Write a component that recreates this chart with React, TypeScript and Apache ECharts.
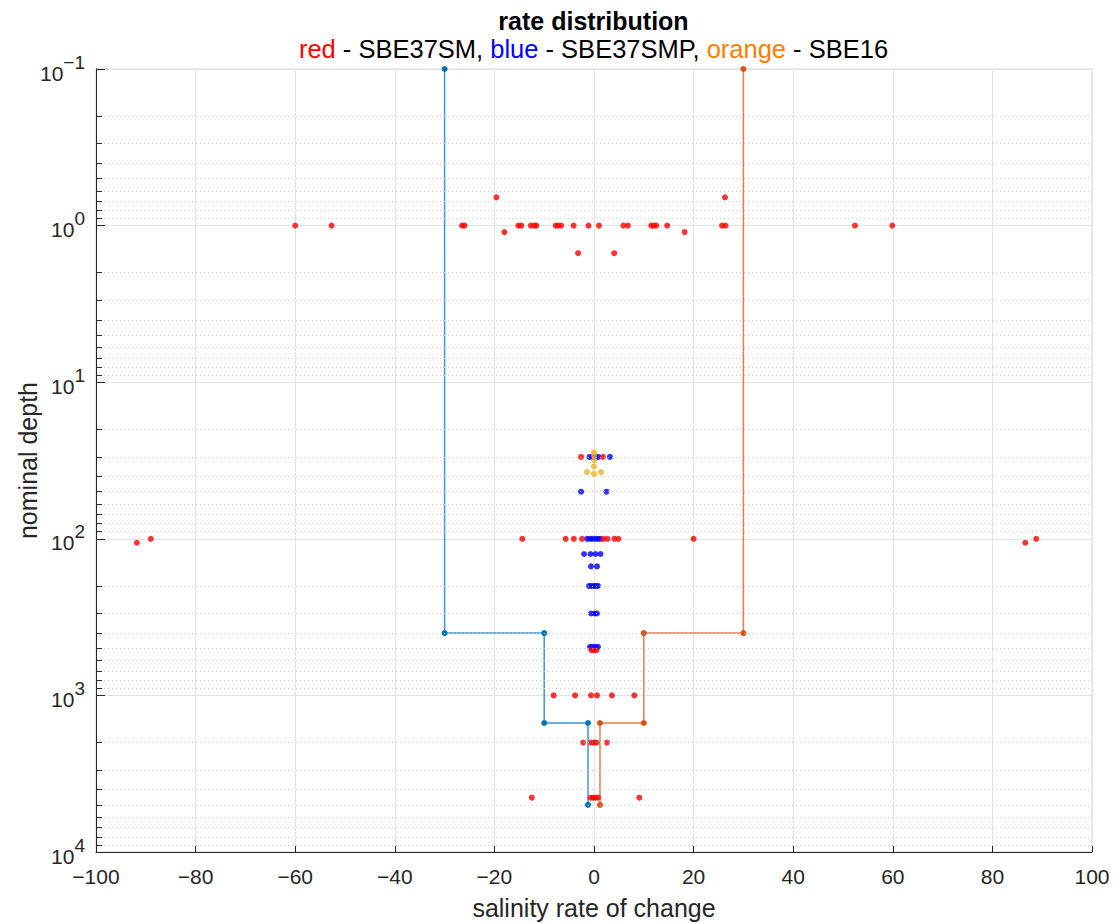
import React, { useEffect, useRef } from "react";
import * as echarts from "echarts";

// ---- data ----
const stairDepth = [0.1, 400, 400, 1500, 1500, 5000];
const blueStairRate = [-30, -30, -10, -10, -1.2, -1.2];
const orangeStairRate = [30, 30, 10, 10, 1.2, 1.2];

// SBE37SM (red) points: [rate, depth]
const redPoints: [number, number][] = [
  [-60, 1], [-52.7, 1], [-26.5, 1], [-26, 1], [-15.2, 1], [-14.6, 1],
  [-12.7, 1], [-12, 1], [-11.6, 1], [-7.7, 1], [-7.2, 1], [-6.6, 1],
  [-4.1, 1], [-1.1, 1], [1.0, 1], [5.9, 1], [6.8, 1], [11.5, 1], [12, 1],
  [12.5, 1], [14.7, 1], [25.7, 1], [26.4, 1], [52.4, 1], [59.9, 1],
  [-19.6, 0.66], [26.3, 0.66], [-18.0, 1.1], [18.2, 1.1], [-3.2, 1.5], [4.05, 1.5],
  [-2.6, 30], [1.8, 30],
  [-91.8, 106], [-89, 100], [-14.4, 100], [-5.7, 100], [-4.05, 100], [-2.4, 100],
  [1.9, 100], [2.7, 100], [4.1, 100], [4.9, 100], [20, 100], [86.6, 106], [88.8, 100],
  [-0.5, 515], [0, 515], [0.5, 515],
  [-8.1, 1000], [-3.8, 1000], [-0.6, 1000], [0.6, 1000], [3.6, 1000], [8.1, 1000],
  [-2.2, 2000], [-0.6, 2000], [0, 2000], [0.5, 2000], [2.6, 2000],
  [-12.5, 4500], [-0.7, 4500], [-0.2, 4500], [0.3, 4500], [0.8, 4500], [9.1, 4500],
];

// SBE37SMP (blue) points
const bluePoints: [number, number][] = [
  [-0.9, 30], [-0.3, 30], [0.3, 30], [0.9, 30], [3.2, 30],
  [-2.6, 50], [2.5, 50],
  [-1.4, 100], [-0.8, 100], [-0.3, 100], [0.3, 100], [0.8, 100], [1.3, 100],
  [-2.0, 125], [-0.7, 125], [0.3, 125], [1.3, 125],
  [-0.6, 150], [0.6, 150],
  [-1.0, 200], [-0.5, 200], [0, 200], [0.4, 200], [0.8, 200],
  [-0.6, 300], [0.1, 300], [0.6, 300],
  [-0.8, 490], [-0.3, 490], [0.3, 490], [0.8, 490],
];

// SBE16 (orange) points
const orangePoints: [number, number][] = [
  [0, 28], [0, 29.5], [0, 31.5], [0, 34.5], [-1.4, 37.5], [0, 38.5], [1.4, 37.5],
];

const yExponentTicks = [-1, 0, 1, 2, 3, 4];

const FONT = "'Liberation Sans', Helvetica, Arial, sans-serif";
const AXIS_COLOR = "#262626";

export default function App() {
  const ref = useRef<HTMLDivElement>(null);

  useEffect(() => {
    if (!ref.current) return;
    const chart = echarts.init(ref.current, undefined, { renderer: "svg" });

    const minorDepths: number[] = [];
    for (let e = yExponentTicks[0]; e < yExponentTicks[yExponentTicks.length - 1]; e++) {
      for (let m = 2; m <= 9; m++) minorDepths.push(m * Math.pow(10, e));
    }

    const minorGrid = minorDepths.map((d) => ({ yAxis: d }));
    const minorTicks = minorDepths.map((d) => [
      { coord: [-100, d] },
      { coord: [-98.8, d] },
    ]);

    const zip = (xs: number[], ys: number[]) => xs.map((x, i) => [x, ys[i]]);

    chart.setOption({
      animation: false,
      backgroundColor: "#ffffff",
      title: [
        {
          text: "rate distribution",
          left: 593.5,
          top: 8,
          padding: 0,
          textAlign: "center",
          textStyle: { fontSize: 25, fontWeight: "bold", color: "#000", fontFamily: FONT },
        },
        {
          text: "{r|red}{k| - SBE37SM, }{b|blue}{k| - SBE37SMP, }{o|orange}{k| - SBE16}",
          left: 593.5,
          top: 36,
          padding: 0,
          textAlign: "center",
          textStyle: {
            fontSize: 25.5,
            fontWeight: "normal",
            fontFamily: FONT,
            rich: {
              r: { color: "#FF0000", fontSize: 25.5, fontWeight: "normal", fontFamily: FONT },
              b: { color: "#0000FF", fontSize: 25.5, fontWeight: "normal", fontFamily: FONT },
              o: { color: "#FF8000", fontSize: 25.5, fontWeight: "normal", fontFamily: FONT },
              k: { color: "#000000", fontSize: 25.5, fontWeight: "normal", fontFamily: FONT },
            },
          },
        },
      ],
      grid: {
        left: 96,
        right: 25,
        top: 69,
        bottom: 71,
        show: true,
        containLabel: false,
        outerBoundsMode: "none",
        borderColor: "#d6d6d6",
        borderWidth: 1,
      },
      xAxis: {
        type: "value",
        min: -100,
        max: 100,
        interval: 20,
        name: "salinity rate of change",
        nameLocation: "middle",
        nameGap: 43,
        nameMoveOverlap: false,
        nameTextStyle: { fontSize: 25, color: AXIS_COLOR, fontFamily: FONT },
        axisLine: { show: true, onZero: false, lineStyle: { color: AXIS_COLOR, width: 1 } },
        axisTick: { show: true, inside: true, length: 6, lineStyle: { color: AXIS_COLOR } },
        axisLabel: {
          fontSize: 21,
          color: AXIS_COLOR,
          margin: 14,
          fontFamily: FONT,
          formatter: (v: number) => (v < 0 ? "\u2212" + Math.abs(v) : String(v)),
        },
        splitLine: { show: true, lineStyle: { color: "#e3e3e3", width: 1 } },
      },
      yAxis: {
        type: "log",
        logBase: 10,
        min: 0.1,
        max: 10000,
        inverse: true,
        name: "nominal depth",
        nameLocation: "middle",
        nameGap: 56,
        nameMoveOverlap: false,
        nameTextStyle: { fontSize: 25, color: AXIS_COLOR, fontFamily: FONT },
        axisLine: { show: true, onZero: false, lineStyle: { color: AXIS_COLOR, width: 1 } },
        axisTick: { show: true, inside: true, length: 9, lineStyle: { color: AXIS_COLOR } },
        axisLabel: {
          margin: 11,
          color: AXIS_COLOR,
          fontSize: 21,
          fontFamily: FONT,
          formatter: (v: number) => {
            const e = Math.round(Math.log10(v));
            return `{b|10}{s|${e < 0 ? "\u2212" + Math.abs(e) : e}}`;
          },
          rich: {
            b: {
              fontSize: 21,
              color: AXIS_COLOR,
              fontFamily: FONT,
              padding: [8, 0, 0, 0],
            },
            s: {
              fontSize: 19,
              color: AXIS_COLOR,
              fontFamily: FONT,
              padding: [0, 0, 14, 0],
            },
          },
        },
        splitLine: { show: true, lineStyle: { color: "#e3e3e3", width: 1 } },
      },
      series: [
        {
          type: "scatter",
          data: [],
          silent: true,
          z: 1,
          markLine: {
            silent: true,
            symbol: "none",
            label: { show: false },
            animation: false,
            lineStyle: { color: "#cdcdcd", type: [1, 3], width: 1 },
            data: minorGrid,
          },
        },
        {
          type: "scatter",
          data: [],
          silent: true,
          z: 6,
          markLine: {
            silent: true,
            symbol: "none",
            label: { show: false },
            animation: false,
            lineStyle: { color: AXIS_COLOR, type: "solid", width: 1 },
            data: minorTicks,
          },
        },
        {
          name: "SBE37SMP limits",
          type: "line",
          data: zip(blueStairRate, stairDepth),
          symbol: "circle",
          symbolSize: 6,
          showSymbol: true,
          lineStyle: { color: "#0072BD", width: 1.5, opacity: 0.75 },
          itemStyle: { color: "#0072BD" },
          z: 3,
        },
        {
          name: "SBE16 limits",
          type: "line",
          data: zip(orangeStairRate, stairDepth),
          symbol: "circle",
          symbolSize: 6,
          showSymbol: true,
          lineStyle: { color: "#D95319", width: 1.5, opacity: 0.75 },
          itemStyle: { color: "#D95319" },
          z: 3,
        },
        {
          name: "SBE37SMP",
          type: "scatter",
          data: bluePoints,
          symbol: "circle",
          symbolSize: 6,
          itemStyle: { color: "#0000FF" },
          z: 4,
        },
        {
          name: "SBE37SM",
          type: "scatter",
          data: redPoints,
          symbol: "circle",
          symbolSize: 6,
          itemStyle: { color: "#FF0000" },
          z: 4,
        },
        {
          name: "SBE16",
          type: "scatter",
          data: orangePoints,
          symbol: "circle",
          symbolSize: 6,
          itemStyle: { color: "#EDB120" },
          z: 5,
        },
      ],
    });

    return () => chart.dispose();
  }, []);

  return (
    <div
      ref={ref}
      style={{ position: "fixed", left: 0, top: 0, width: 1117, height: 923, background: "#fff" }}
    />
  );
}
